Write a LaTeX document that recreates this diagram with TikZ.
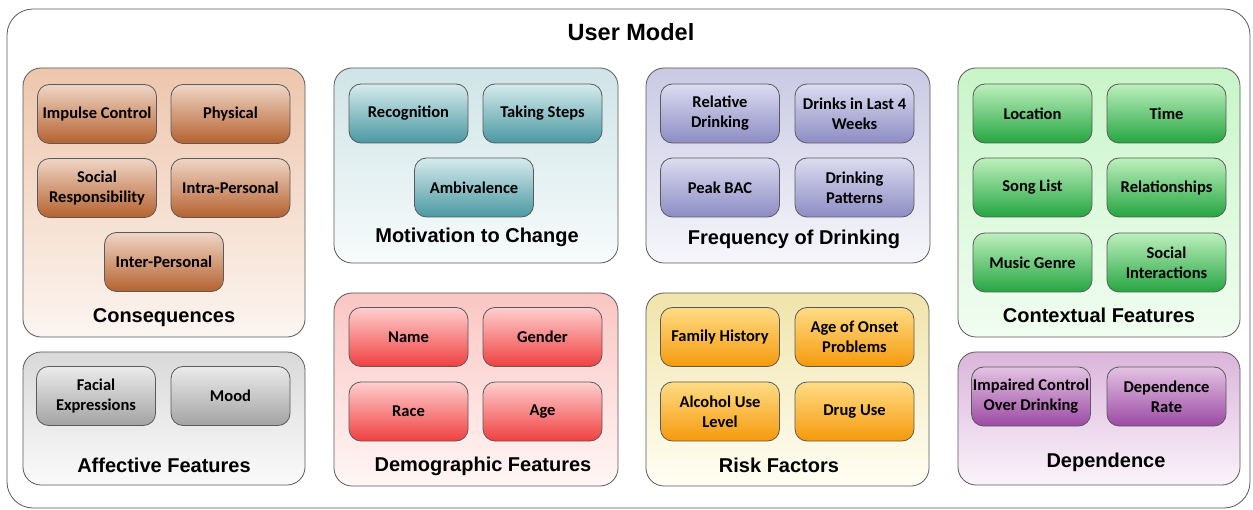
\documentclass[tikz,border=0pt]{standalone}
\usepackage{fontspec}
\setmainfont{Carlito}
\newfontfamily\headfont{Liberation Sans}
\usetikzlibrary{positioning}

% group colours: panel top, panel bottom, item top, item bottom
\definecolor{conPT}{HTML}{EDC6AC}\definecolor{conPB}{HTML}{FCF5F0}
\definecolor{conIT}{HTML}{EFD6C6}\definecolor{conIB}{HTML}{B5612F}
\definecolor{motPT}{HTML}{CFE4E7}\definecolor{motPB}{HTML}{F7FBFB}
\definecolor{motIT}{HTML}{D6EBED}\definecolor{motIB}{HTML}{4A98A2}
\definecolor{frqPT}{HTML}{C9C9E4}\definecolor{frqPB}{HTML}{F6F6FB}
\definecolor{frqIT}{HTML}{DCDCF0}\definecolor{frqIB}{HTML}{8C8CC4}
\definecolor{ctxPT}{HTML}{C8F5C8}\definecolor{ctxPB}{HTML}{F1FDF1}
\definecolor{ctxIT}{HTML}{BDF0BD}\definecolor{ctxIB}{HTML}{25A541}
\definecolor{affPT}{HTML}{D9D9D9}\definecolor{affPB}{HTML}{FAFAFA}
\definecolor{affIT}{HTML}{EBEBEB}\definecolor{affIB}{HTML}{A3A3A3}
\definecolor{demPT}{HTML}{FAC6C2}\definecolor{demPB}{HTML}{FFF6F6}
\definecolor{demIT}{HTML}{FFCFCF}\definecolor{demIB}{HTML}{F04040}
\definecolor{rskPT}{HTML}{F0E4AA}\definecolor{rskPB}{HTML}{FFFEF4}
\definecolor{rskIT}{HTML}{FFDC85}\definecolor{rskIB}{HTML}{F59A0C}
\definecolor{depPT}{HTML}{DBB5DB}\definecolor{depPB}{HTML}{FAF3FA}
\definecolor{depIT}{HTML}{E3C3E3}\definecolor{depIB}{HTML}{9C4AA4}
\definecolor{edge}{HTML}{5A5A5A}

\tikzset{
  panel/.style 2 args={draw=edge, line width=0.8pt, rounded corners=18pt,
    top color=#1, bottom color=#2, inner sep=0pt},
  item/.style 2 args={draw=edge, line width=0.8pt, rounded corners=12pt,
    top color=#1, bottom color=#2, minimum width=119pt, minimum height=59pt,
    inner sep=1pt, align=center, font=\fontsize{16.5}{20}\selectfont\bfseries},
  paneltitle/.style={anchor=base, inner sep=0pt,
    font=\headfont\fontsize{20}{24}\selectfont\bfseries},
}

\begin{document}
\begin{tikzpicture}[x=1pt, y=-1pt]
\useasboundingbox (0,0) rectangle (1253,510);

% outer frame
\node[draw=edge, line width=0.8pt, rounded corners=26pt, fill=white,
      minimum width=1243pt, minimum height=499pt, inner sep=0pt]
  (frame) at (628.5,258.5) {};
\node[anchor=base, inner sep=0pt, font=\headfont\fontsize{23.5}{28}\selectfont\bfseries]
  (umtitle) at (631,41) {User Model};

% ---- Consequences
\node[panel={conPT}{conPB}, minimum width=282pt, minimum height=269pt] (con) at (164,202.5) {};
\node[item={conIT}{conIB}] (con1) at (97,114) {Impulse Control};
\node[item={conIT}{conIB}] (con2) at (230.5,114) {Physical};
\node[item={conIT}{conIB}] (con3) at (97,188) {Social\\Responsibility};
\node[item={conIT}{conIB}] (con4) at (230.5,188) {Intra-Personal};
\node[item={conIT}{conIB}] (con5) at (164,262) {Inter-Personal};
\node[paneltitle] (conT) at (164,323) {Consequences};

% ---- Affective Features
\node[panel={affPT}{affPB}, minimum width=282pt, minimum height=133pt] (aff) at (164,418.5) {};
\node[item={affIT}{affIB}] (aff1) at (96,396) {Facial\\Expressions};
\node[item={affIT}{affIB}] (aff2) at (230.5,396) {Mood};
\node[paneltitle] (affT) at (164,472) {Affective Features};

% ---- Motivation to Change
\node[panel={motPT}{motPB}, minimum width=284pt, minimum height=195pt] (mot) at (476,165.5) {};
\node[item={motIT}{motIB}] (mot1) at (408.5,113.5) {Recognition};
\node[item={motIT}{motIB}] (mot2) at (542.5,113.5) {Taking Steps};
\node[item={motIT}{motIB}] (mot3) at (474,187.5) {Ambivalence};
\node[paneltitle] (motT) at (477,243) {Motivation to Change};

% ---- Demographic Features
\node[panel={demPT}{demPB}, minimum width=284pt, minimum height=193pt] (dem) at (476,389.5) {};
\node[item={demIT}{demIB}] (dem1) at (408.5,337) {Name};
\node[item={demIT}{demIB}] (dem2) at (542.5,337) {Gender};
\node[item={demIT}{demIB}] (dem3) at (408.5,411.5) {Race};
\node[item={demIT}{demIB}] (dem4) at (542.5,411.5) {Age};
\node[paneltitle] (demT) at (483,471) {Demographic Features};

% ---- Frequency of Drinking
\node[panel={frqPT}{frqPB}, minimum width=284pt, minimum height=195pt] (frq) at (788,165.5) {};
\node[item={frqIT}{frqIB}] (frq1) at (720,113.5) {Relative\\Drinking};
\node[item={frqIT}{frqIB}] (frq2) at (854.5,113.5) {Drinks in Last 4\\Weeks};
\node[item={frqIT}{frqIB}] (frq3) at (720,187.5) {Peak BAC};
\node[item={frqIT}{frqIB}] (frq4) at (854.5,187.5) {Drinking\\Patterns};
\node[paneltitle] (frqT) at (794,245) {Frequency of Drinking};

% ---- Risk Factors
\node[panel={rskPT}{rskPB}, minimum width=283pt, minimum height=193pt] (rsk) at (787.5,389.5) {};
\node[item={rskIT}{rskIB}] (rsk1) at (720,337) {Family History};
\node[item={rskIT}{rskIB}] (rsk2) at (854.5,337) {Age of Onset\\Problems};
\node[item={rskIT}{rskIB}] (rsk3) at (720,411.5) {Alcohol Use\\Level};
\node[item={rskIT}{rskIB}] (rsk4) at (854.5,411.5) {Drug Use};
\node[paneltitle] (rskT) at (779,472) {Risk Factors};

% ---- Contextual Features
\node[panel={ctxPT}{ctxPB}, minimum width=282pt, minimum height=269pt] (ctx) at (1099,202.5) {};
\node[item={ctxIT}{ctxIB}] (ctx1) at (1032.5,113.5) {Location};
\node[item={ctxIT}{ctxIB}] (ctx2) at (1166.5,113.5) {Time};
\node[item={ctxIT}{ctxIB}] (ctx3) at (1032.5,187.5) {Song List};
\node[item={ctxIT}{ctxIB}] (ctx4) at (1166.5,187.5) {Relationships};
\node[item={ctxIT}{ctxIB}] (ctx5) at (1032.5,262.5) {Music Genre};
\node[item={ctxIT}{ctxIB}] (ctx6) at (1166.5,262.5) {Social\\Interactions};
\node[paneltitle] (ctxT) at (1099,323) {Contextual Features};

% ---- Dependence
\node[panel={depPT}{depPB}, minimum width=282pt, minimum height=133pt] (dep) at (1099,418.5) {};
\node[item={depIT}{depIB}] (dep1) at (1031,396.5) {Impaired Control\\Over Drinking};
\node[item={depIT}{depIB}] (dep2) at (1166.5,396.5) {Dependence\\Rate};
\node[paneltitle] (depT) at (1106,467) {Dependence};
\end{tikzpicture}
\end{document}
